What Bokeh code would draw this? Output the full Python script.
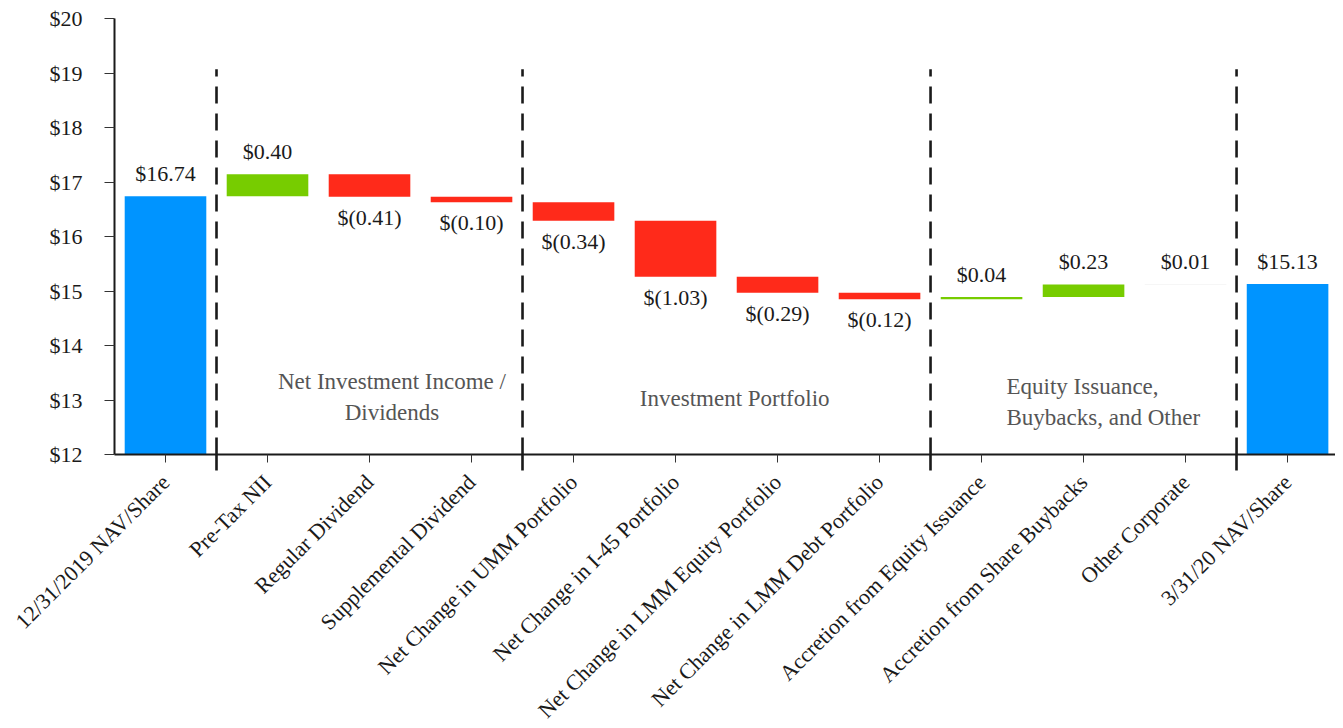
import math
from bokeh.plotting import figure
from bokeh.models import ColumnDataSource, Range1d, FixedTicker
from bokeh.embed import file_html
from bokeh.resources import INLINE
from bokeh.core.properties import value

# ---------------- data ----------------
categories = [
    "12/31/2019 NAV/Share", "Pre-Tax NII", "Regular Dividend", "Supplemental Dividend",
    "Net Change in UMM Portfolio", "Net Change in I-45 Portfolio",
    "Net Change in LMM Equity Portfolio", "Net Change in LMM Debt Portfolio",
    "Accretion from Equity Issuance", "Accretion from Share Buybacks",
    "Other Corporate", "3/31/20 NAV/Share",
]
amounts = [16.74, 0.40, -0.41, -0.10, -0.34, -1.03, -0.29, -0.12, 0.04, 0.23, 0.01, 15.13]
is_total = [True, False, False, False, False, False, False, False, False, False, False, True]
value_texts = ["$16.74", "$0.40", "$(0.41)", "$(0.10)", "$(0.34)", "$(1.03)", "$(0.29)",
               "$(0.12)", "$0.04", "$0.23", "$0.01", "$15.13"]
section_first_index = [1, 4, 8, 11]
section_names = ["Net Investment Income /\nDividends", "Investment Portfolio",
                 "Equity Issuance,\nBuybacks, and Other"]
y_ticks = [12, 13, 14, 15, 16, 17, 18, 19, 20]

BLUE = "#0094FF"
GREEN = "#77CC00"
RED = "#FF2A1A"
FAINT = "#EDEDED"
FONT = "Liberation Serif"

# ---------------- waterfall geometry ----------------
xs, bottoms, tops, colors = [], [], [], []
running = 0.0
for i, (a, tot) in enumerate(zip(amounts, is_total)):
    xs.append(i)
    if tot:
        bottoms.append(12.0)
        tops.append(a)
        colors.append(BLUE)
        running = a
    else:
        new = running + a
        bottoms.append(min(running, new))
        tops.append(max(running, new))
        if abs(a) < 0.015:
            colors.append(FAINT)
        else:
            colors.append(GREEN if a > 0 else RED)
        running = new

pos_x, pos_y, pos_t, neg_x, neg_y, neg_t = [], [], [], [], [], []
for i, (a, tot) in enumerate(zip(amounts, is_total)):
    if tot or a > 0:
        pos_x.append(i); pos_y.append(tops[i]); pos_t.append(value_texts[i])
    else:
        neg_x.append(i); neg_y.append(bottoms[i]); neg_t.append(value_texts[i])

src = ColumnDataSource(dict(x=xs, bottom=bottoms, top=tops, color=colors))

p = figure(
    frame_width=1221, frame_height=436,
    x_range=Range1d(-0.5, 11.47), y_range=Range1d(12, 20),
    output_backend="svg", toolbar_location=None,
    min_border_left=114, min_border_top=18, min_border_right=0, min_border_bottom=250,
)
p.outline_line_color = None
p.grid.visible = False
p.background_fill_color = "white"

p.vbar(x="x", bottom="bottom", top="top", width=0.8, color="color", source=src, line_width=0)

# section divider dashed lines
bx = [k - 0.5 for k in section_first_index]
p.segment(x0=bx, y0=[12] * len(bx), x1=bx, y1=[19.07] * len(bx),
          line_color="#1a1a1a", line_width=2.6, line_dash="17 10")

# value labels
p.text(x=pos_x, y=pos_y, text=pos_t, text_align="center", text_baseline="bottom",
       y_offset=-10, text_font=value(FONT), text_font_size="22px", text_color="#1a1a1a")
p.text(x=neg_x, y=neg_y, text=neg_t, text_align="center", text_baseline="top",
       y_offset=8, text_font=value(FONT), text_font_size="22px", text_color="#1a1a1a")

# section labels
sec_style = dict(text_font=value(FONT), text_font_size="23px", text_color="#555555",
                 text_line_height=1.25, text_baseline="middle")
p.text(x=[2.22], y=[13.05], text=[section_names[0]], text_align="center", **sec_style)
p.text(x=[5.58], y=[13.03], text=[section_names[1]], text_align="center", **sec_style)
p.text(x=[8.245], y=[12.97], text=[section_names[2]], text_align="left", **sec_style)

# axes
xa = p.xaxis[0]
xa.ticker = FixedTicker(ticks=xs, minor_ticks=bx)
xa.major_label_overrides = {i: c for i, c in enumerate(categories)}
xa.major_label_orientation = math.pi / 4
xa.major_label_text_font = FONT
xa.major_label_text_font_size = "22px"
xa.major_label_text_color = "#1a1a1a"
xa.major_label_standoff = 8
xa.axis_line_color = "#1a1a1a"
xa.axis_line_width = 2
xa.major_tick_in = 0
xa.major_tick_out = 8
xa.major_tick_line_color = "#333333"
xa.major_tick_line_width = 1
xa.minor_tick_in = 0
xa.minor_tick_out = 16
xa.minor_tick_line_color = "#1a1a1a"
xa.minor_tick_line_width = 2.6

ya = p.yaxis[0]
ya.ticker = FixedTicker(ticks=y_ticks)
ya.major_label_overrides = {t: f"${t}" for t in y_ticks}
ya.major_label_text_font = FONT
ya.major_label_text_font_size = "22px"
ya.major_label_text_color = "#1a1a1a"
ya.major_label_standoff = 22
ya.axis_line_color = "#1a1a1a"
ya.axis_line_width = 2
ya.major_tick_in = 0
ya.major_tick_out = 10
ya.major_tick_line_color = "#333333"
ya.minor_tick_line_color = None

open("out.html", "w").write(file_html(p, INLINE))
